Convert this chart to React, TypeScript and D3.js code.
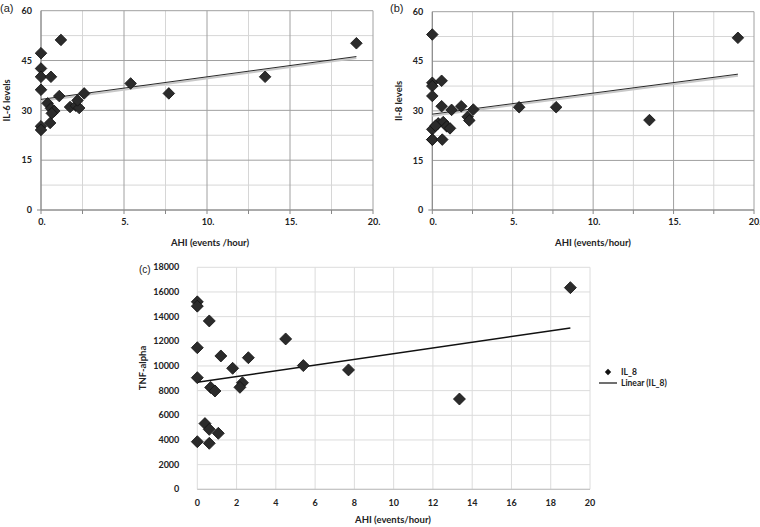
import React from "react";
import * as d3 from "d3";

// ---------- data ----------
const il6X = [0, 0, 0, 0, 0, 0, 1.2, 0.6, 1.1, 0.4, 0.6, 0.8, 0.65, 0.55, 1.75, 2.1, 2.3, 2.2, 2.6, 5.4, 7.7, 13.5, 19.0];
const il6Y = [47.2, 42.6, 40.1, 36.2, 25.2, 24.1, 51.2, 40.1, 34.3, 32.1, 30.6, 29.8, 29.1, 26.2, 31.0, 31.4, 30.7, 33.0, 35.1, 38.1, 35.1, 40.1, 50.2];

const il8X = [0, 0, 0, 0, 0, 0, 0.58, 0.58, 1.2, 1.8, 2.55, 2.2, 2.3, 0.37, 0.68, 0.9, 1.1, 0.2, 0, 0.62, 5.4, 7.7, 13.5, 19.0];
const il8Y = [53.1, 38.5, 37.5, 34.5, 24.4, 21.3, 39.1, 31.4, 30.3, 31.4, 30.4, 28.2, 27.1, 26.2, 26.6, 25.3, 24.7, 25.5, 21.3, 21.3, 31.1, 31.1, 27.2, 52.1];

const tnfX = [0, 0, 0.61, 0, 1.2, 2.6, 1.8, 0, 0.68, 0.9, 2.3, 2.17, 0.39, 0.61, 1.07, 0, 0.61, 4.5, 5.4, 7.7, 13.35, 19.0];
const tnfY = [15200, 14850, 13650, 11480, 10810, 10670, 9810, 9050, 8260, 7970, 8640, 8270, 5330, 4860, 4540, 3860, 3730, 12190, 10030, 9680, 7320, 16350];

const trendIL6 = [[0, 33.3], [19, 46.2]];
const trendIL8 = [[0, 29.0], [19, 41.1]];
const trendTNF = [[0, 8680], [19, 13080]];

const abXTicks = [0, 5, 10, 15, 20];
const abXTickLabels = ["0.", "5.", "10.", "15.", "20."];
const abYTicks = [0, 15, 30, 45, 60];
const abMinorX = [2.5, 7.5, 12.5, 17.5];
const abMinorY = [7.5, 22.5, 37.5, 52.5];

const cXTicks = [0, 2, 4, 6, 8, 10, 12, 14, 16, 18, 20];
const cYTicks = [0, 2000, 4000, 6000, 8000, 10000, 12000, 14000, 16000, 18000];

const legendLabels = ["IL_8", "Linear (IL_8)"];

const FONT = "'Liberation Sans Narrow', 'Arial Narrow', Lato, sans-serif";

function diamond(cx: number, cy: number, r: number) {
  return `M${cx},${cy - r}L${cx + r},${cy}L${cx},${cy + r}L${cx - r},${cy}Z`;
}

function PanelAB(props: {
  xs: number[]; ys: number[]; trend: number[][];
  x0: number; x1: number; y0: number; y1: number;
  yTitle: string; xTitle: string; label: string; labelX: number; xTitleX: number;
}) {
  const { xs, ys, trend, x0, x1, y0, y1 } = props;
  const x = d3.scaleLinear().domain([0, 20]).range([x0, x1]);
  const y = d3.scaleLinear().domain([0, 60]).range([y0, y1]);
  const line = d3.line<number[]>().x((d) => x(d[0])).y((d) => y(d[1]));
  return (
    <g>
      {abMinorX.map((v) => (
        <line key={"mx" + v} x1={x(v)} x2={x(v)} y1={y(0)} y2={y(60)} stroke="#d6d6d6" strokeWidth={1} />
      ))}
      {abMinorY.map((v) => (
        <line key={"my" + v} x1={x(0)} x2={x(20)} y1={y(v)} y2={y(v)} stroke="#d6d6d6" strokeWidth={1} />
      ))}
      {abXTicks.map((v) => (
        <line key={"gx" + v} x1={x(v)} x2={x(v)} y1={y(0)} y2={y(60)} stroke="#a0a0a0" strokeWidth={1} />
      ))}
      {abYTicks.map((v) => (
        <line key={"gy" + v} x1={x(0)} x2={x(20)} y1={y(v)} y2={y(v)} stroke="#a0a0a0" strokeWidth={1} />
      ))}
      {[...abXTicks, ...abMinorX].map((v) => (
        <line key={"tx" + v} x1={x(v)} x2={x(v)} y1={y(0)} y2={y(0) + 4} stroke="#888" strokeWidth={1} />
      ))}
      <line x1={x(0) - 4} x2={x(0)} y1={y(0)} y2={y(0)} stroke="#888" />
      <line x1={x(0)} x2={x(20)} y1={y(0)} y2={y(0)} stroke="#888" strokeWidth={1} />
      <line x1={x(0)} x2={x(0)} y1={y(0)} y2={y(60)} stroke="#888" strokeWidth={1} />
      {abYTicks.map((v) => (
        <text key={"yl" + v} x={x(0) - 9} y={y(v)} dy="0.35em" textAnchor="end" fontFamily={FONT} fontWeight="bold" fontSize={9} fill="#222">{v}</text>
      ))}
      {abXTicks.map((v, i) => (
        <text key={"xl" + v} x={x(v) + 1} y={y(0) + 9} dy="0.71em" textAnchor="middle" fontFamily={FONT} fontWeight="bold" fontSize={9} fill="#222">{abXTickLabels[i]}</text>
      ))}
      <path d={line(trend) || ""} stroke="#c8c8c8" strokeWidth={2} fill="none" transform="translate(0,1.5)" />
      <path d={line(trend) || ""} stroke="#111" strokeWidth={0.9} fill="none" />
      {xs.map((v, i) => (
        <path key={"p" + i} d={diamond(x(v), y(ys[i]), 5.8)} fill="#2b2b2b" stroke="#111" strokeWidth={0.8} />
      ))}
      <text x={props.xTitleX} y={243} dy="0.35em" textAnchor="middle" fontFamily={FONT} fontWeight="bold" fontSize={9.5} fill="#222">{props.xTitle}</text>
      <text transform={`translate(${x0 - 34},${(y0 + y1) / 2 - 10}) rotate(-90)`} textAnchor="middle" dy="0.35em" fontFamily={FONT} fontWeight="bold" fontSize={9.5} fill="#222">{props.yTitle}</text>
      <text x={props.labelX} y={8} dy="0.35em" fontFamily="'Liberation Sans', Arial, sans-serif" fontSize={11} fill="#222">{props.label}</text>
    </g>
  );
}

function PanelC() {
  const x = d3.scaleLinear().domain([0, 20]).range([197.3, 590]);
  const y = d3.scaleLinear().domain([0, 18000]).range([489.3, 267.3]);
  const line = d3.line<number[]>().x((d) => x(d[0])).y((d) => y(d[1]));
  return (
    <g>
      {cXTicks.map((v) => (
        <line key={"gx" + v} x1={x(v)} x2={x(v)} y1={y(0)} y2={y(18000)} stroke="#dcdcdc" strokeWidth={1} />
      ))}
      {cYTicks.map((v) => (
        <line key={"gy" + v} x1={x(0)} x2={x(20)} y1={y(v)} y2={y(v)} stroke="#dcdcdc" strokeWidth={1} />
      ))}
      <line x1={x(0)} x2={x(20)} y1={y(0)} y2={y(0)} stroke="#bfbfbf" strokeWidth={1} />
      {cYTicks.map((v) => (
        <text key={"yl" + v} x={x(0) - 18} y={y(v)} dy="0.35em" textAnchor="end" fontFamily={FONT} fontWeight="bold" fontSize={9} fill="#222">{v}</text>
      ))}
      {cXTicks.map((v) => (
        <text key={"xl" + v} x={x(v)} y={y(0) + 10} dy="0.71em" textAnchor="middle" fontFamily={FONT} fontWeight="bold" fontSize={9} fill="#222">{v}</text>
      ))}
      <path d={line(trendTNF) || ""} stroke="#111" strokeWidth={1.4} fill="none" />
      {tnfX.map((v, i) => (
        <path key={"p" + i} d={diamond(x(v), y(tnfY[i]), 6)} fill="#2b2b2b" stroke="#111" strokeWidth={0.8} />
      ))}
      <text x={393} y={520} dy="0.35em" textAnchor="middle" fontFamily={FONT} fontWeight="bold" fontSize={9.5} fill="#222">AHI (events/hour)</text>
      <text transform="translate(143,368) rotate(-90)" textAnchor="middle" dy="0.35em" fontFamily={FONT} fontWeight="bold" fontSize={9.5} fill="#222">TNF-alpha</text>
      <text x={139} y={269} dy="0.35em" fontFamily="'Liberation Sans', Arial, sans-serif" fontSize={10} fill="#222">(c)</text>
      {/* legend */}
      <path d={diamond(608, 372, 3.2)} fill="#111" />
      <text x={621} y={372} dy="0.35em" fontFamily={FONT} fontWeight="bold" fontSize={8.5} fill="#222">{legendLabels[0]}</text>
      <line x1={599} x2={617} y1={383} y2={383} stroke="#111" strokeWidth={1.2} />
      <text x={621} y={383} dy="0.35em" fontFamily={FONT} fontWeight="bold" fontSize={8.5} fill="#222">{legendLabels[1]}</text>
    </g>
  );
}

export default function App() {
  return (
    <svg width={760} height={527} style={{ position: "absolute", left: 0, top: 0, background: "#fff" }}>
      <rect width={760} height={527} fill="#fff" />
      <PanelAB xs={il6X} ys={il6Y} trend={trendIL6} x0={41} x1={373} y0={210} y1={10.7}
        yTitle="IL-6 levels" xTitle="AHI (events /hour)" label="(a)" labelX={0} xTitleX={210} />
      <PanelAB xs={il8X} ys={il8Y} trend={trendIL8} x0={432.3} x1={754} y0={210} y1={11.7}
        yTitle="Il-8 levels" xTitle="AHI (events/hour)" label="(b)" labelX={390} xTitleX={593} />
      <PanelC />
    </svg>
  );
}
